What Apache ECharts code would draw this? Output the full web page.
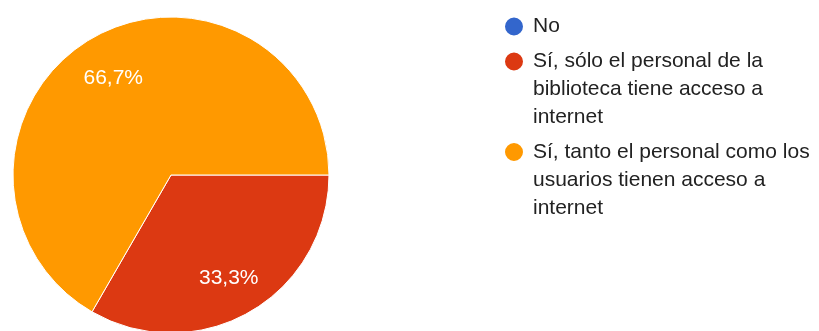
<!DOCTYPE html>
<html>
<head>
<meta charset="utf-8">
<script src="https://cdn.jsdelivr.net/npm/echarts@6/dist/echarts.min.js"></script>
<style>
  html, body { margin: 0; padding: 0; background: #fff; }
  #chart { width: 819px; height: 331px; }
</style>
</head>
<body>
<div id="chart"></div>
<script>
// Answer categories, response counts and slice colours
const categories = [
  'No',
  'Sí, sólo el personal de la\nbiblioteca tiene acceso a\ninternet',
  'Sí, tanto el personal como los\nusuarios tienen acceso a\ninternet'
];
const counts = [0, 1, 2];
const colors = ['#3366cc', '#dc3912', '#ff9900'];

// Legend entries: vertical centre of each marker
const legendCenters = [26.5, 61.5, 152];
const LINE_H = 28;
const FONT = 'Arial, "Liberation Sans", sans-serif';

const pieData = categories.map((name, i) => ({
  name: name,
  value: counts[i],
  itemStyle: { color: colors[i] }
}));

// One legend per entry; blank lines above the text keep the marker beside the first line
const legends = categories.map((name, i) => {
  const lines = name.split('\n').length;
  const lead = '\n'.repeat(lines - 1);
  return {
    orient: 'vertical',
    left: 503,
    top: legendCenters[i] - (2 * lines - 1) * LINE_H / 2,
    padding: 0,
    icon: 'circle',
    itemWidth: 28,
    itemHeight: 20,
    selectedMode: false,
    data: [{ name: name }],
    formatter: n => lead + n,
    textStyle: {
      fontFamily: FONT,
      fontSize: 21,
      color: '#222222',
      lineHeight: LINE_H
    }
  };
});

const chart = echarts.init(document.getElementById('chart'), null, { renderer: 'canvas' });
chart.setOption({
  animation: false,
  legend: legends,
  series: [
    {
      type: 'pie',
      center: [171, 175],
      radius: [0, 158],
      startAngle: 0,
      clockwise: true,
      data: pieData,
      label: { show: false },
      labelLine: { show: false },
      itemStyle: { borderColor: '#ffffff', borderWidth: 1 },
      emphasis: { disabled: true }
    },
    {
      // transparent ring that carries the percentage labels
      type: 'pie',
      center: [171, 175],
      radius: [67, 158],
      startAngle: 0,
      clockwise: true,
      silent: true,
      data: categories.map((name, i) => ({
        name: name,
        value: counts[i],
        itemStyle: { color: 'rgba(0,0,0,0)' },
        label: { show: counts[i] > 0 }
      })),
      itemStyle: { borderWidth: 0 },
      label: {
        position: 'inside',
        color: '#ffffff',
        fontFamily: FONT,
        fontSize: 21,
        offset: [0, 3],
        formatter: p => p.percent.toFixed(1).replace('.', ',') + '%'
      },
      labelLine: { show: false },
      emphasis: { disabled: true }
    }
  ]
});
</script>
</body>
</html>
